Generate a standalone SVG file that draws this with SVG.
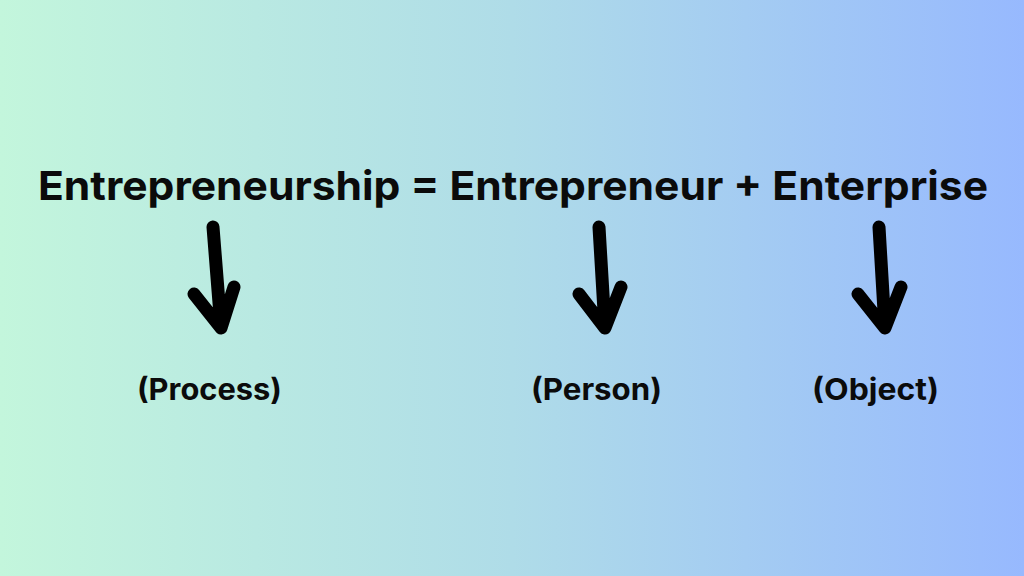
<svg xmlns="http://www.w3.org/2000/svg" width="1024" height="576" viewBox="0 0 1024 576">
  <defs>
    <linearGradient id="bg" x1="0" y1="0" x2="1" y2="0">
      <stop offset="0" stop-color="#c3f6dc"/>
      <stop offset="0.5" stop-color="#afdce8"/>
      <stop offset="1" stop-color="#97b9fe"/>
    </linearGradient>
    <style>
      .title { font-family: Inter, "Open Sans", "Liberation Sans", sans-serif; font-weight: 700; font-size: 40px; fill: #0b0b0b; }
      .label { font-family: Inter, "Open Sans", "Liberation Sans", sans-serif; font-weight: 700; font-size: 30px; fill: #0b0b0b; }
      .arrow { fill: none; stroke: #000; stroke-width: 13; stroke-linecap: round; stroke-linejoin: round; }
    </style>
  </defs>
  <rect width="1024" height="576" fill="url(#bg)"/>
  <g id="equation">
    <text class="title" x="38" y="200" textLength="950" lengthAdjust="spacingAndGlyphs">Entrepreneurship = Entrepreneur + Enterprise</text>
  </g>
  <g id="connectors">
    <path class="arrow" d="M213,227 L221,328 M194,294 L221,328 L234,287"/>
    <path class="arrow" d="M599,227 L605,328 M579,294 L605,328 L621,287"/>
    <path class="arrow" d="M879,227 L885,328 M858,294 L885,328 L901,287"/>
  </g>
  <g id="process">
    <text class="label" x="137" y="400" textLength="145" lengthAdjust="spacingAndGlyphs">(Process)</text>
  </g>
  <g id="person">
    <text class="label" x="531" y="400" textLength="131" lengthAdjust="spacingAndGlyphs">(Person)</text>
  </g>
  <g id="object">
    <text class="label" x="812" y="400" textLength="127" lengthAdjust="spacingAndGlyphs">(Object)</text>
  </g>
</svg>
